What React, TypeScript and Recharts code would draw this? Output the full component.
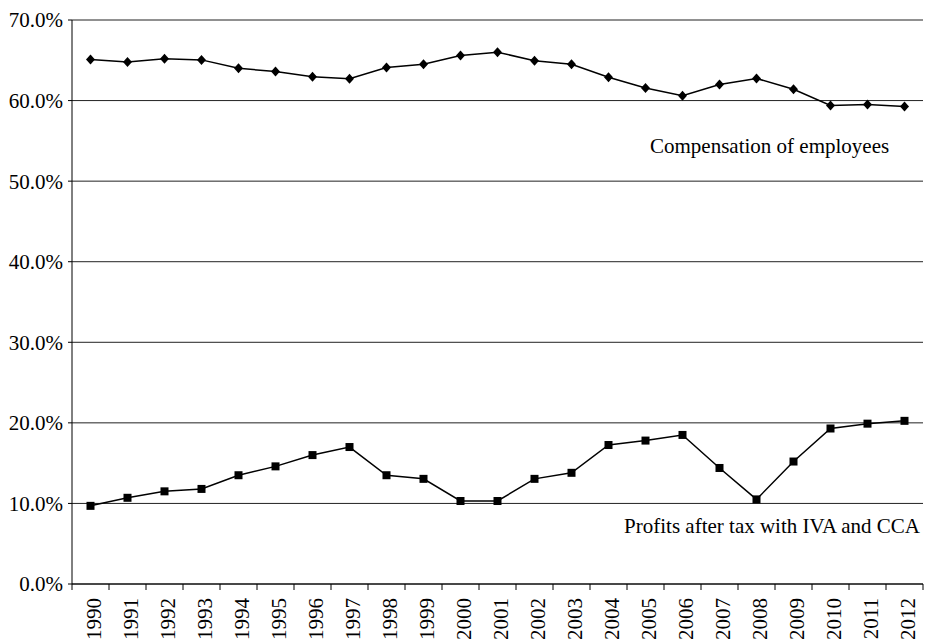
import React from 'react';
import { LineChart, Line, XAxis, YAxis, CartesianGrid } from 'recharts';

const years = ['1990', '1991', '1992', '1993', '1994', '1995', '1996', '1997', '1998', '1999', '2000', '2001', '2002', '2003', '2004', '2005', '2006', '2007', '2008', '2009', '2010', '2011', '2012'];
const compensation = [65.1, 64.8, 65.2, 65.05, 64.0, 63.6, 62.95, 62.7, 64.1, 64.5, 65.6, 66.0, 64.95, 64.5, 62.9, 61.55, 60.6, 62.0, 62.75, 61.4, 59.4, 59.5, 59.25];
const profits = [9.7, 10.7, 11.5, 11.8, 13.5, 14.6, 16.0, 17.0, 13.5, 13.05, 10.3, 10.3, 13.05, 13.8, 17.25, 17.8, 18.5, 14.4, 10.5, 15.2, 19.3, 19.9, 20.25];
const yTicks = [0, 10, 20, 30, 40, 50, 60, 70];

const data = years.map((year, i) => ({ year, compensation: compensation[i], profits: profits[i] }));

const FONT = '"Liberation Serif", "Times New Roman", serif';
const BAND = 851 / years.length;

const YearTick = ({ x, y, payload, index }: any) => {
    const left = x - BAND / 2;
    return (
        <g>
            <line x1={left} y1={y} x2={left} y2={y + 6} stroke="#000" strokeWidth={1} />
            {index === years.length - 1 && (
                <line x1={x + BAND / 2} y1={y} x2={x + BAND / 2} y2={y + 6} stroke="#000" strokeWidth={1} />
            )}
            <g transform={`translate(${x},${y + 14}) rotate(-90)`}>
                <text x={0} y={0} dy={10} textAnchor="end" fontSize={21} fontFamily={FONT} fill="#000">
                    {payload.value}
                </text>
            </g>
        </g>
    );
};

const Diamond = ({ cx, cy }: any) => {
    if (cx == null || cy == null) return null;
    return <polygon points={`${cx},${cy - 5} ${cx + 4.5},${cy} ${cx},${cy + 5} ${cx - 4.5},${cy}`} fill="#000" />;
};

const Square = ({ cx, cy }: any) => {
    if (cx == null || cy == null) return null;
    return <rect x={cx - 4} y={cy - 4} width={8} height={8} fill="#000" />;
};

export default function App() {
    return (
        <div style={{ position: 'absolute', left: 0, top: 0, width: 925, height: 640, background: '#fff' }}>
            <LineChart width={925} height={640} data={data} margin={{ top: 20, right: 2, left: 0, bottom: 0 }}>
                <CartesianGrid vertical={false} stroke="#222" strokeWidth={1} />
                <XAxis
                    dataKey="year"
                    scale="band"
                    interval={0}
                    height={56}
                    tickLine={false}
                    tickSize={0}
                    tickMargin={0}
                    axisLine={{ stroke: '#000' }}
                    tick={<YearTick />}
                />
                <YAxis
                    domain={[0, 70]}
                    ticks={yTicks}
                    interval={0}
                    width={72}
                    tickSize={4}
                    tickMargin={5}
                    axisLine={{ stroke: '#000' }}
                    tickLine={{ stroke: '#000' }}
                    tickFormatter={(v: number) => `${v.toFixed(1)}%`}
                    tick={{ fontSize: 21, fontFamily: FONT, fill: '#000' }}
                />
                <Line
                    type="linear"
                    dataKey="compensation"
                    stroke="#000"
                    strokeWidth={1.5}
                    dot={<Diamond />}
                    activeDot={false}
                    isAnimationActive={false}
                />
                <Line
                    type="linear"
                    dataKey="profits"
                    stroke="#000"
                    strokeWidth={1.5}
                    dot={<Square />}
                    activeDot={false}
                    isAnimationActive={false}
                />
            </LineChart>
            <div style={{ position: 'absolute', left: 650, top: 134, fontFamily: FONT, fontSize: 21, color: '#000', whiteSpace: 'nowrap' }}>
                Compensation of employees
            </div>
            <div style={{ position: 'absolute', right: 5, top: 514, fontFamily: FONT, fontSize: 21, color: '#000', whiteSpace: 'nowrap' }}>
                Profits after tax with IVA and CCA
            </div>
        </div>
    );
}
